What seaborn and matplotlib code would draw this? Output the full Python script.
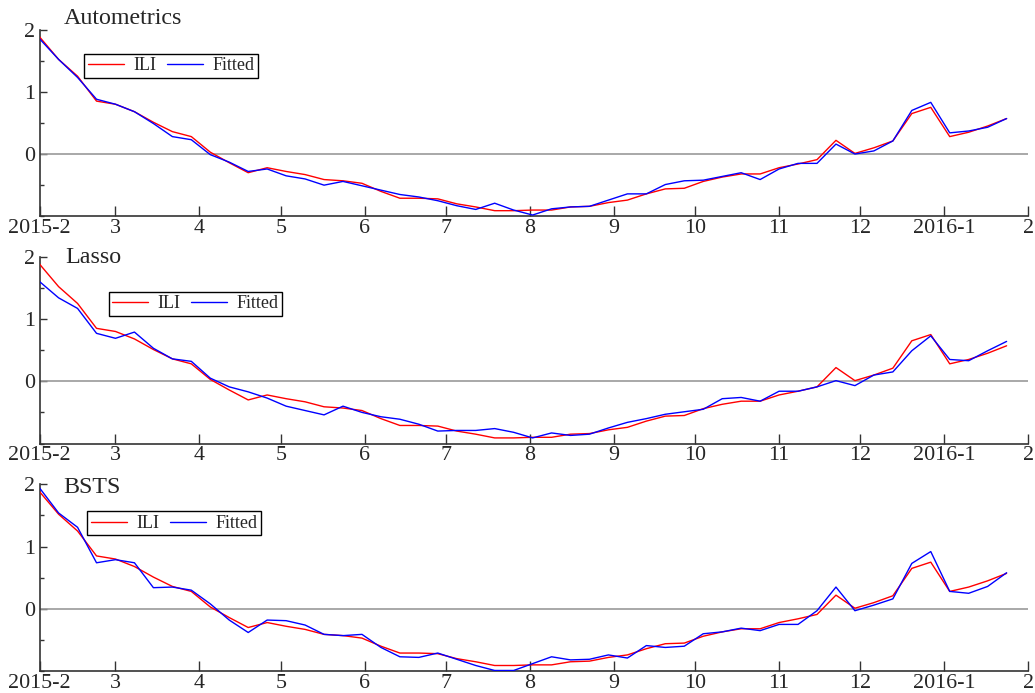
import pandas as pd
import seaborn as sns
import matplotlib.pyplot as plt
from matplotlib.ticker import MultipleLocator

# weekly observations, first week of Feb 2015 to last week of Jan 2016
weeks = pd.date_range('2015-02-01', periods=52, freq='7D')

ili = [1.88, 1.52, 1.25, 0.85, 0.80, 0.68, 0.51, 0.36, 0.28, 0.03,
       -0.14, -0.30, -0.22, -0.28, -0.33, -0.41, -0.43, -0.47, -0.60, -0.71,
       -0.71, -0.72, -0.80, -0.85, -0.91, -0.91, -0.90, -0.90, -0.85, -0.84,
       -0.78, -0.74, -0.64, -0.56, -0.55, -0.44, -0.37, -0.32, -0.32, -0.22,
       -0.16, -0.09, 0.22, 0.01, 0.10, 0.21, 0.65, 0.75, 0.28, 0.35,
       0.45, 0.57]

fitted_autometrics = [1.85, 1.52, 1.23, 0.88, 0.80, 0.68, 0.49, 0.28, 0.23, -0.01,
                      -0.13, -0.28, -0.24, -0.35, -0.40, -0.50, -0.44, -0.51, -0.58, -0.65,
                      -0.69, -0.75, -0.83, -0.89, -0.79, -0.90, -0.98, -0.88, -0.85, -0.84,
                      -0.74, -0.64, -0.64, -0.49, -0.43, -0.42, -0.36, -0.30, -0.41, -0.24,
                      -0.15, -0.15, 0.16, 0.00, 0.05, 0.21, 0.70, 0.83, 0.34, 0.37,
                      0.43, 0.57]

fitted_lasso = [1.60, 1.34, 1.17, 0.77, 0.69, 0.79, 0.53, 0.36, 0.32, 0.05,
                -0.09, -0.17, -0.27, -0.40, -0.47, -0.54, -0.40, -0.50, -0.57, -0.61,
                -0.69, -0.80, -0.79, -0.79, -0.76, -0.82, -0.91, -0.83, -0.87, -0.85,
                -0.75, -0.66, -0.60, -0.53, -0.49, -0.45, -0.28, -0.26, -0.32, -0.16,
                -0.16, -0.09, 0.01, -0.07, 0.10, 0.15, 0.49, 0.73, 0.35, 0.33,
                0.49, 0.64]

fitted_bsts = [1.94, 1.54, 1.31, 0.74, 0.79, 0.74, 0.34, 0.35, 0.30, 0.08,
               -0.18, -0.38, -0.18, -0.19, -0.26, -0.41, -0.43, -0.41, -0.62, -0.77,
               -0.78, -0.71, -0.81, -0.91, -0.99, -0.99, -0.88, -0.77, -0.82, -0.81,
               -0.74, -0.79, -0.59, -0.62, -0.60, -0.40, -0.37, -0.31, -0.35, -0.25,
               -0.25, -0.03, 0.35, -0.03, 0.06, 0.16, 0.73, 0.92, 0.28, 0.25,
               0.36, 0.58]

model_names = ['Autometrics', 'Lasso', 'BSTS']
fitted_series = [fitted_autometrics, fitted_lasso, fitted_bsts]

month_ticks = pd.date_range('2015-02-01', '2016-02-01', freq='MS')
month_labels = ['2015-2', '3', '4', '5', '6', '7', '8', '9', '10', '11', '12', '2016-1', '2']

sns.set_theme(style='ticks')
plt.rcParams['font.family'] = ['Liberation Serif', 'DejaVu Serif']
plt.rcParams['axes.edgecolor'] = '#333333'

fig = plt.figure(figsize=(10.35, 6.93), dpi=100)

# axes rectangles (left, bottom, width, height) in figure fraction
panel_bottoms = [0.6879, 0.3600, 0.0316]
legend_anchor = [(0.0453, 0.871), (0.0697, 0.812), (0.0484, 0.856)]
title_pos = [(0.0244, 1.028), (0.026, 0.969), (0.0244, 0.954)]

for k, (name, fitted) in enumerate(zip(model_names, fitted_series)):
    ax = fig.add_axes([0.0383, panel_bottoms[k], 0.9552, 0.2695])

    df = pd.DataFrame({
        'week': list(weeks) * 2,
        'value': ili + fitted,
        'series': ['ILI'] * len(ili) + ['Fitted'] * len(fitted),
    })

    ax.axhline(0, color='#999999', lw=1.2, zorder=1)
    sns.lineplot(data=df, x='week', y='value', hue='series',
                 palette={'ILI': '#ff0000', 'Fitted': '#0000ff'},
                 linewidth=1.0, ax=ax, zorder=3)

    ax.set_xlim(month_ticks[0], month_ticks[-1])
    ax.set_ylim(-1, 2)
    ax.set_xticks(month_ticks)
    ax.set_xticklabels(month_labels)
    ax.set_yticks([0, 1, 2])
    ax.yaxis.set_minor_locator(MultipleLocator(0.5))
    ax.set_xlabel('')
    ax.set_ylabel('')

    sns.despine(ax=ax)
    ax.tick_params(axis='both', which='major', direction='in', labelsize=15.8,
                   color='#333333', width=1.0)
    ax.tick_params(axis='x', length=7, pad=2)
    ax.tick_params(axis='y', length=5, pad=3)
    ax.tick_params(axis='y', which='minor', direction='in', length=3,
                   color='#333333', width=1.0)
    for side in ['left', 'bottom']:
        ax.spines[side].set_linewidth(1.2)

    ax.text(title_pos[k][0], title_pos[k][1], name, transform=ax.transAxes,
            fontsize=17.3, va='baseline', ha='left')

    sns.move_legend(ax, 'upper left', bbox_to_anchor=legend_anchor[k],
                    ncol=2, title=None, frameon=True, fancybox=False,
                    framealpha=1, edgecolor='black', fontsize=13,
                    borderaxespad=0, borderpad=0.2, handlelength=2.0,
                    handletextpad=0.5, columnspacing=0.6)
    ax.get_legend().get_frame().set_linewidth(1.0)

fig.savefig('out.png', dpi=100)
